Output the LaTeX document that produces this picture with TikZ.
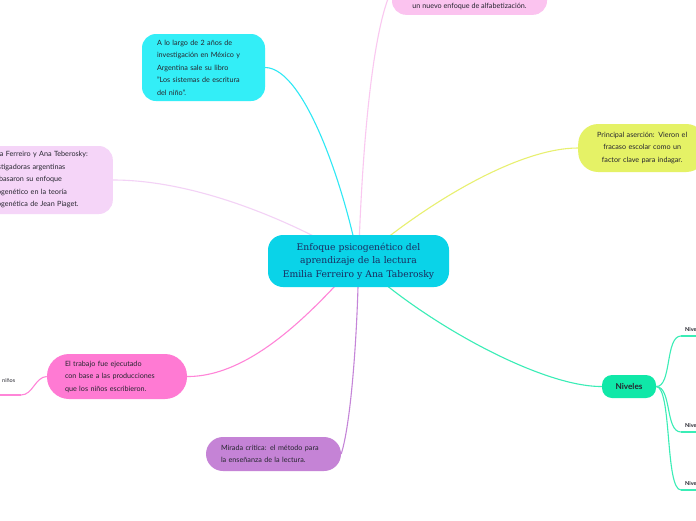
\documentclass[tikz,border=0pt]{standalone}
\usepackage{fontspec}
\setmainfont{Lato}
\newfontfamily\slab{DejaVu Serif}
\usetikzlibrary{backgrounds}
\definecolor{cmain}{HTML}{0AD3E8}
\definecolor{cmaintext}{HTML}{1A2B5F}
\definecolor{ccyan}{HTML}{33EEF7}
\definecolor{cpinkl}{HTML}{FBC3EF}
\definecolor{clav}{HTML}{F5D5F8}
\definecolor{cyel}{HTML}{E5F266}
\definecolor{chot}{HTML}{FF7AD3}
\definecolor{cpur}{HTML}{C583D6}
\definecolor{cgreen}{HTML}{10E8A8}
\definecolor{ctext}{HTML}{26262F}
\definecolor{lcyan}{HTML}{2EE8F5}
\definecolor{lpink}{HTML}{FAC8F0}
\definecolor{llav}{HTML}{F3D2F6}
\definecolor{lyel}{HTML}{E8F070}
\definecolor{lhot}{HTML}{FF85D8}
\definecolor{lpur}{HTML}{C585D8}
\definecolor{lgreen}{HTML}{3AEDB6}
\tikzset{
  topicbox/.style={rounded corners=14pt, inner ysep=0pt, text=ctext,
    font=\fontsize{7.2}{12.5}\selectfont, align=left},
  conn/.style={line width=1.1pt},
  uline/.style={line width=1.5pt},
  subtxt/.style={font=\fontsize{5.5}{6}\selectfont, text=ctext, inner sep=0pt}
}
\begin{document}
\begin{tikzpicture}[x=1pt,y=-1pt]
\useasboundingbox (0,0) rectangle (696,520);
\clip (0,0) rectangle (696,520);

% central
\node[fill=cmain, rounded corners=15pt, text width=164pt, align=center,
  minimum height=52pt, inner xsep=8.5pt, inner ysep=0pt, text=cmaintext,
  font=\slab\fontsize{9.2}{13.5}\selectfont] (c) at (358.5,261)
  {Enfoque psicogenético del\\aprendizaje de la lectura\\Emilia Ferreiro y Ana Taberosky};

% top pink box
\node[fill=cpinkl, rounded corners=14pt, minimum width=155pt, minimum height=50pt,
  inner sep=0pt, anchor=south] (top) at (469.5,15) {};
\node[subtxt, font=\fontsize{7.2}{8}\selectfont, anchor=base] (toptxt) at (469.5,8.5)
  {un nuevo enfoque de alfabetización.};

% cyan box
\node[topicbox, fill=ccyan, text width=93pt, inner xsep=15pt, minimum height=67pt]
  (cy) at (203.5,67.5)
  {A lo largo de 2 años de\\investigación en México y\\Argentina sale su libro\\"Los sistemas de escritura\\del niño".};

% lavender box
\node[topicbox, fill=clav, text width=121pt, inner xsep=7pt, minimum height=68pt,
  anchor=east] (lav) at (113,180)
  {Emilia Ferreiro y Ana Teberosky:\\investigadoras argentinas\\que basaron su enfoque\\psicogenético en la teoría\\psicogenética de Jean Piaget.};

% yellow box
\node[topicbox, fill=cyel, rounded corners=20pt, text width=100pt, inner xsep=14pt,
  minimum height=48pt, align=center, anchor=west] (yel) at (578,148)
  {Principal aserción: Vieron el\\fracaso escolar como un\\factor clave para indagar.};

% hot pink box
\node[topicbox, fill=chot, rounded corners=22pt, text width=104pt, inner xsep=18pt,
  minimum height=45pt] (hot) at (117,376.5)
  {El trabajo fue ejecutado\\con base a las producciones\\que los niños escribieron.};

% purple box
\node[topicbox, fill=cpur, rounded corners=17pt, text width=105pt, inner xsep=15pt,
  minimum height=34pt] (pur) at (273.5,454)
  {Mirada crítica: el método para\\la enseñanza de la lectura.};

% niveles
\node[fill=cgreen, rounded corners=10pt, minimum width=54pt, minimum height=23pt,
  inner sep=0pt, text=ctext, font=\bfseries\fontsize{8.2}{9}\selectfont] (niv) at (629,386.5) {Niveles};

% subtopics
\node[subtxt, anchor=base west] (ninos) at (2,382) {niños};
\coordinate (nu) at (21,395);
\coordinate (nu0) at (-5,395);
\node[subtxt, font=\bfseries\fontsize{5.5}{6}\selectfont, anchor=base west] (n1) at (685,331) {Nivel};
\node[subtxt, font=\bfseries\fontsize{5.5}{6}\selectfont, anchor=base west] (n2) at (685,427) {Nivel};
\node[subtxt, font=\bfseries\fontsize{5.5}{6}\selectfont, anchor=base west] (n3) at (685,485) {Nivel};
\coordinate (u1) at (681,336);
\coordinate (u2) at (681,432);
\coordinate (u3) at (681,490);
\coordinate (e1) at (700,336);
\coordinate (e2) at (700,432);
\coordinate (e3) at (700,490);

\begin{scope}[on background layer]
\fill[white] (0,0) rectangle (696,520);
\draw[conn, lcyan] (cy.east) .. controls (305,68) and (345,190) .. (c.center);
\draw[conn, lpink] (c.center) .. controls (362,150) and (372,30) .. (top.west);
\draw[conn, llav] (lav.east) .. controls (200,180) and (300,225) .. (c.center);
\draw[conn, lyel] (c.center) .. controls (430,200) and (520,148) .. (yel.west);
\draw[conn, lhot] (hot.east) .. controls (260,377) and (330,290) .. (c.center);
\draw[conn, lpur] (pur.east) .. controls (352,420) and (358,320) .. (c.center);
\draw[conn, lgreen] (c.center) .. controls (420,320) and (540,387) .. (niv.west);
\draw[conn, lhot] (hot.west) .. controls (35,377) and (33,395) .. (nu);
\draw[uline, lhot] (nu) -- (nu0);
\draw[conn, lgreen] (niv.east) .. controls (672,387) and (665,336) .. (u1);
\draw[conn, lgreen] (niv.east) .. controls (672,387) and (665,432) .. (u2);
\draw[conn, lgreen] (niv.east) .. controls (672,387) and (665,490) .. (u3);
\draw[uline, lgreen] (u1) -- (e1);
\draw[uline, lgreen] (u2) -- (e2);
\draw[uline, lgreen] (u3) -- (e3);
\end{scope}
\end{tikzpicture}
\end{document}
